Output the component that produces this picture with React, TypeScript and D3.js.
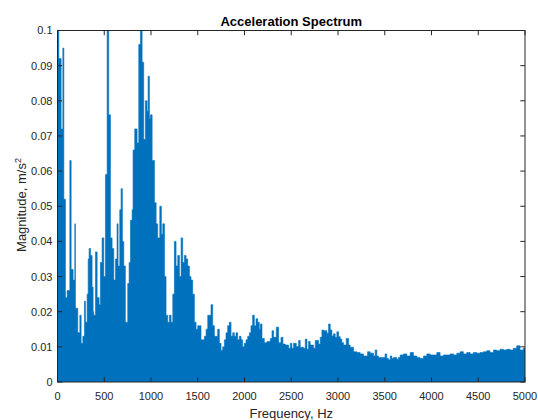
import React from 'react';
import * as d3 from 'd3';

// Spectrum envelope: bin start frequency (Hz) and peak magnitude (m/s^2)
const binStartHz = [
  0, 14, 39, 57, 68, 85, 103, 132, 146, 167, 185, 192, 217, 239, 253, 271, 288, 299, 317, 328,
  338, 353, 370, 381, 388, 406, 424, 445, 459, 477, 495, 513, 531, 548, 566, 584, 602, 620, 637, 648,
  666, 680, 694, 709, 726, 751, 766, 780, 798, 808, 826, 851, 869, 887, 905, 922, 940, 958, 969, 983,
  994, 1012, 1037, 1055, 1072, 1094, 1111, 1126, 1144, 1161, 1179, 1197, 1215, 1233, 1250, 1268, 1286, 1304, 1322, 1339,
  1357, 1375, 1393, 1411, 1428, 1446, 1464, 1482, 1500, 1517, 1535, 1553, 1571, 1589, 1607, 1624, 1642, 1660, 1678, 1696,
  1713, 1731, 1749, 1767, 1785, 1802, 1820, 1838, 1856, 1874, 1891, 1909, 1927, 1945, 1963, 1980, 1998, 2016, 2034, 2052,
  2069, 2087, 2105, 2123, 2141, 2158, 2169, 2187, 2212, 2240, 2276, 2294, 2311, 2340, 2365, 2390, 2411, 2436, 2472, 2490,
  2507, 2525, 2554, 2579, 2596, 2632, 2650, 2668, 2685, 2703, 2739, 2757, 2792, 2810, 2828, 2846, 2881, 2899, 2917, 2935,
  2952, 2970, 2988, 3006, 3024, 3041, 3059, 3088, 3113, 3130, 3166, 3202, 3237, 3273, 3316, 3344, 3380, 3398, 3415, 3433,
  3487, 3504, 3522, 3540, 3558, 3576, 3593, 3629, 3647, 3665, 3700, 3736, 3772, 3807, 3843, 3878, 3914, 3950, 3985, 4021,
  4057, 4092, 4128, 4163, 4199, 4235, 4270, 4306, 4341, 4377, 4413, 4448, 4484, 4519, 4555, 4591, 4626, 4662, 4697, 4733,
  4769, 4804, 4840, 4875, 4911, 4947, 4982,
];
const binPeak = [
  0.1, 0.092, 0.072, 0.095, 0.052, 0.024, 0.026, 0.063, 0.032, 0.029, 0.045, 0.021, 0.014, 0.019, 0.011, 0.013, 0.023, 0.017, 0.025, 0.035,
  0.038, 0.036, 0.027, 0.020, 0.019, 0.037, 0.024, 0.022, 0.034, 0.041, 0.030, 0.059, 0.1, 0.076, 0.041, 0.038, 0.029, 0.035, 0.045, 0.033,
  0.049, 0.055, 0.040, 0.033, 0.017, 0.028, 0.034, 0.046, 0.049, 0.066, 0.072, 0.068, 0.096, 0.1, 0.091, 0.069, 0.080, 0.077, 0.087, 0.075,
  0.076, 0.063, 0.051, 0.045, 0.041, 0.050, 0.042, 0.045, 0.030, 0.019, 0.017, 0.019, 0.017, 0.025, 0.040, 0.033, 0.036, 0.030, 0.041, 0.034,
  0.036, 0.035, 0.033, 0.030, 0.029, 0.025, 0.017, 0.015, 0.016, 0.016, 0.012, 0.012, 0.013, 0.015, 0.019, 0.019, 0.022, 0.016, 0.013, 0.013,
  0.015, 0.011, 0.009, 0.010, 0.012, 0.014, 0.016, 0.017, 0.013, 0.014, 0.013, 0.014, 0.012, 0.013, 0.012, 0.010, 0.011, 0.012, 0.013, 0.014,
  0.016, 0.019, 0.016, 0.018, 0.017, 0.015, 0.0165, 0.0124, 0.0112, 0.0115, 0.0124, 0.0146, 0.0127, 0.0156, 0.0112, 0.0127, 0.0108, 0.0105, 0.0096, 0.0110,
  0.0096, 0.0110, 0.0101, 0.0118, 0.0099, 0.0096, 0.0122, 0.0093, 0.0115, 0.0105, 0.0096, 0.0118, 0.0108, 0.0127, 0.0148, 0.0146, 0.0139, 0.0165, 0.0148, 0.0131,
  0.0137, 0.0127, 0.0143, 0.0129, 0.0122, 0.0112, 0.0105, 0.0124, 0.0105, 0.0099, 0.0086, 0.0084, 0.0080, 0.0074, 0.0086, 0.0082, 0.0074, 0.0091, 0.0074, 0.0070,
  0.0070, 0.0080, 0.0067, 0.0063, 0.0074, 0.0067, 0.0070, 0.0065, 0.0070, 0.0077, 0.0080, 0.0074, 0.0084, 0.0074, 0.0070, 0.0067, 0.0074, 0.0080, 0.0077, 0.0077,
  0.0084, 0.0074, 0.0077, 0.0077, 0.0080, 0.0077, 0.0082, 0.0086, 0.0080, 0.0084, 0.0080, 0.0084, 0.0082, 0.0084, 0.0086, 0.0089, 0.0084, 0.0091, 0.0089, 0.0093,
  0.0091, 0.0093, 0.0091, 0.0096, 0.0103, 0.0091, 0.0096,
];

const xTicks = [0, 500, 1000, 1500, 2000, 2500, 3000, 3500, 4000, 4500, 5000];
const yTicks = [0, 0.01, 0.02, 0.03, 0.04, 0.05, 0.06, 0.07, 0.08, 0.09, 0.1];
const yTickLabels = ['0', '0.01', '0.02', '0.03', '0.04', '0.05', '0.06', '0.07', '0.08', '0.09', '0.1'];

const W = 538;
const H = 420;
const plot = { left: 57.5, right: 525, top: 30.5, bottom: 382 };
const axisColor = '#262626';
const lineColor = '#0072BD';
const font = '"Liberation Sans", Arial, Helvetica, sans-serif';
const tickLen = 4.7;

export default function App() {
  const x = d3.scaleLinear().domain([0, 5000]).range([plot.left, plot.right]);
  const y = d3.scaleLinear().domain([0, 0.1]).range([plot.bottom, plot.top]);

  const pts: [number, number][] = binStartHz.map((f, i) => [f, binPeak[i]]);
  pts.push([5000, binPeak[binPeak.length - 1]]);

  const area = d3
    .area<[number, number]>()
    .x((d) => x(d[0]))
    .y0(y(0))
    .y1((d) => y(d[1]))
    .curve(d3.curveStepAfter);

  return (
    <svg
      width={W}
      height={H}
      viewBox={`0 0 ${W} ${H}`}
      style={{ position: 'absolute', left: 0, top: 0, background: '#fff' }}
      fontFamily={font}
    >
      <rect x={0} y={0} width={W} height={H} fill="#fff" />
      <defs>
        <clipPath id="plotClip">
          <rect x={plot.left} y={plot.top} width={plot.right - plot.left} height={plot.bottom - plot.top} />
        </clipPath>
      </defs>
      <g clipPath="url(#plotClip)">
        <path d={area(pts) || ''} fill={lineColor} stroke={lineColor} strokeWidth={0.6} />
      </g>

      {/* box */}
      <rect
        x={plot.left}
        y={plot.top}
        width={plot.right - plot.left}
        height={plot.bottom - plot.top}
        fill="none"
        stroke={axisColor}
        strokeWidth={1}
      />

      {/* x ticks */}
      {xTicks.map((t) => (
        <g key={`xt${t}`}>
          <line x1={x(t)} x2={x(t)} y1={plot.bottom} y2={plot.bottom - tickLen} stroke={axisColor} strokeWidth={1} />
          <line x1={x(t)} x2={x(t)} y1={plot.top} y2={plot.top + tickLen} stroke={axisColor} strokeWidth={1} />
          <text x={x(t)} y={400} textAnchor="middle" fontSize={11} fill={axisColor}>
            {t}
          </text>
        </g>
      ))}

      {/* y ticks */}
      {yTicks.map((t, i) => (
        <g key={`yt${i}`}>
          <line x1={plot.left} x2={plot.left + tickLen} y1={y(t)} y2={y(t)} stroke={axisColor} strokeWidth={1} />
          <line x1={plot.right} x2={plot.right - tickLen} y1={y(t)} y2={y(t)} stroke={axisColor} strokeWidth={1} />
          <text x={52.5} y={y(t)} dy="0.36em" textAnchor="end" fontSize={11} fill={axisColor}>
            {yTickLabels[i]}
          </text>
        </g>
      ))}

      {/* title */}
      <text x={(plot.left + plot.right) / 2} y={25.7} textAnchor="middle" fontSize={13} fontWeight="bold" fill="#000">
        Acceleration Spectrum
      </text>

      {/* x label */}
      <text x={(plot.left + plot.right) / 2} y={418} textAnchor="middle" fontSize={13} fill={axisColor}>
        Frequency, Hz
      </text>

      {/* y label */}
      <text
        transform={`translate(26, 205) rotate(-90)`}
        textAnchor="middle"
        fontSize={13}
        fill={axisColor}
      >
        Magnitude, m/s<tspan dy={-5} fontSize={9}>2</tspan>
      </text>
    </svg>
  );
}
